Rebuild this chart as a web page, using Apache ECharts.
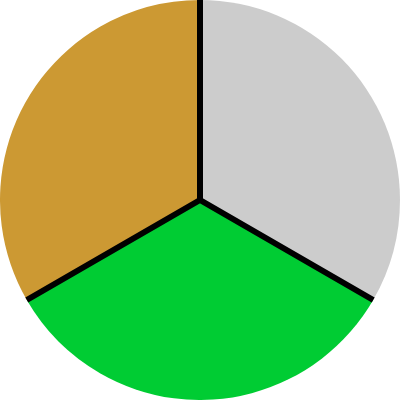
<!DOCTYPE html>
<html><head><meta charset="utf-8">
<script src="https://cdn.jsdelivr.net/npm/echarts@6/dist/echarts.min.js"></script>
<style>html,body{margin:0;padding:0;background:#fff}#c{width:400px;height:400px}</style>
</head><body><div id="c"></div>
<script>
const categories = ['A', 'B', 'C'];
const values = [1, 1, 1];
const colors = ['#cccccc', '#00cc33', '#cc9933'];
const total = values.reduce((a, b) => a + b, 0);

const chart = echarts.init(document.getElementById('c'), null, {renderer: 'canvas'});
chart.setOption({
  animation: false,
  polar: { center: [200, 200], radius: 200 },
  angleAxis: {
    type: 'value', min: 0, max: total, interval: 1, startAngle: 90, clockwise: true, z: 10,
    axisLine: { show: false }, axisTick: { show: false }, axisLabel: { show: false },
    splitLine: { show: true, lineStyle: { color: '#000', width: 6 } }
  },
  radiusAxis: { show: false, type: 'value', min: 0, max: 1, splitLine: { show: false } },
  series: [{
    type: 'pie', center: [200, 200], radius: 200, startAngle: 90, clockwise: true,
    label: { show: false }, labelLine: { show: false }, silent: true,
    data: categories.map((c, i) => ({ name: c, value: values[i], itemStyle: { color: colors[i] } }))
  }]
});
</script></body></html>
